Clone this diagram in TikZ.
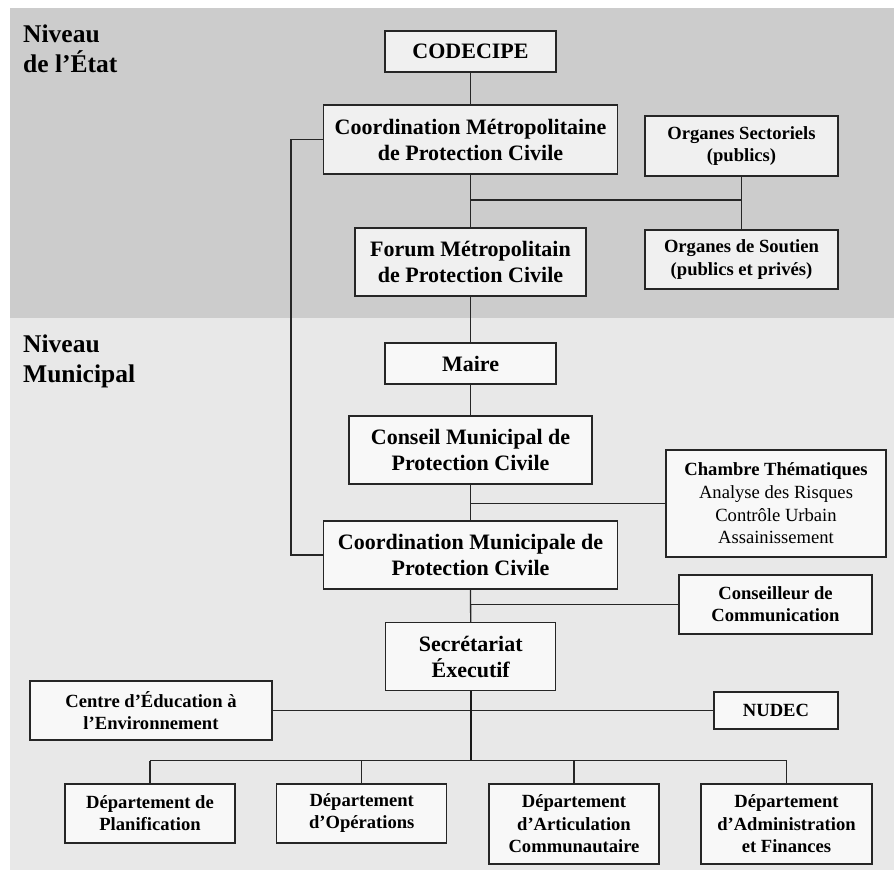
\documentclass[tikz,border=0pt]{standalone}
\usepackage{fontspec}
\setmainfont{Liberation Serif}
\definecolor{bgdark}{HTML}{CCCCCC}
\definecolor{bglight}{HTML}{E8E8E8}
\definecolor{boxtop}{HTML}{F0F0F0}
\definecolor{boxbot}{HTML}{F8F8F8}
\tikzset{
  bigbox/.style={draw=black!85, line width=1.5pt, inner sep=0pt, align=center,
    font=\bfseries\fontsize{22}{26}\selectfont},
  smallbox/.style={draw=black!85, line width=1.5pt, inner sep=0pt, align=center,
    font=\bfseries\fontsize{18.6}{22.3}\selectfont},
  link/.style={draw=black!85, line width=1.3pt},
  trunk/.style={draw=black!90, line width=2pt},
  level/.style={anchor=north west, inner sep=0pt, align=left,
    font=\bfseries\fontsize{25.5}{30}\selectfont}
}
\begin{document}
\begin{tikzpicture}[x=1pt, y=-1pt]
\useasboundingbox (0,0) rectangle (894,870);
\fill[bgdark] (10,8) rectangle (894,318);
\fill[bglight] (10,318) rectangle (894,870);

\node[level] (etat) at (23,24.5) {Niveau\\de l'État};
\node[level] (muni) at (23,335) {Niveau\\Municipal};

% State level
\node[bigbox, fill=boxtop, minimum width=171pt, minimum height=41pt] (codecipe) at (470.5,51.5) {CODECIPE};
\node[bigbox, fill=boxtop, minimum width=294pt, minimum height=69pt] (cmpc) at (470.5,139.5) {Coordination Métropolitaine\\de Protection Civile};
\node[smallbox, fill=boxtop, minimum width=193pt, minimum height=60pt] (os) at (741.5,146) {Organes Sectoriels\\(publics)};
\node[smallbox, fill=boxtop, minimum width=193pt, minimum height=59pt] (osout) at (741.5,259.5) {Organes de Soutien\\(publics et privés)};
\node[bigbox, fill=boxtop, minimum width=231pt, minimum height=68pt] (forum) at (470.5,262) {Forum Métropolitain\\de Protection Civile};

% Municipal level
\node[bigbox, fill=boxbot, minimum width=171pt, minimum height=41pt] (maire) at (470.5,363.5) {Maire};
\node[bigbox, fill=boxbot, minimum width=243pt, minimum height=68pt] (cmun) at (470.5,450) {Conseil Municipal de\\Protection Civile};
\node[draw=black!85, line width=1.5pt, inner sep=0pt, align=center, fill=boxbot,
  font=\fontsize{18.6}{22.7}\selectfont, minimum width=220pt, minimum height=107pt] (chambre) at (776,503.5)
  {\textbf{Chambre Thématiques}\\Analyse des Risques\\Contrôle Urbain\\Assainissement};
\node[bigbox, fill=boxbot, minimum width=294pt, minimum height=68pt] (coordmun) at (470.5,555) {Coordination Municipale de\\Protection Civile};
\node[smallbox, fill=boxbot, minimum width=193pt, minimum height=59pt] (conseiller) at (775.5,604.5) {Conseilleur de\\Communication};
\node[bigbox, fill=boxbot, minimum width=170pt, minimum height=68pt] (secr) at (470.7,656.7) {Secrétariat\\Éxecutif};
\node[smallbox, fill=boxbot, minimum width=242pt, minimum height=59pt] (centre) at (151,710.5) {Centre d'Éducation à\\l'Environnement};
\node[smallbox, fill=boxbot, minimum width=124pt, minimum height=37pt] (nudec) at (776,710.5) {NUDEC};

\node[smallbox, fill=boxbot, minimum width=170pt, minimum height=59pt, anchor=north] (d1) at (150,783) {Département de\\Planification};
\node[smallbox, fill=boxbot, minimum width=170pt, minimum height=59pt, anchor=north] (d2) at (361.7,783) {Département\\d'Opérations};
\node[smallbox, fill=boxbot, minimum width=170pt, minimum height=80pt, anchor=north] (d3) at (574,783) {Département\\d'Articulation\\Communautaire};
\node[smallbox, fill=boxbot, minimum width=171pt, minimum height=80pt, anchor=north] (d4) at (786.5,783) {Département\\d'Administration\\et Finances};

% junctions
\coordinate (j1) at (470.5,200);
\coordinate (j2) at (741.5,200);
\coordinate (lx) at (291,139.5);
\coordinate (bus) at (470.7,760.5);
\coordinate (b1) at (150,760.5);
\coordinate (b2) at (361.7,760.5);
\coordinate (b3) at (574,760.5);
\coordinate (b4) at (786.5,760.5);

% connectors
\draw[link] (codecipe.south) -- (cmpc.north);
\draw[link] (cmpc.south) -- (forum.north);
\draw[link] (os.south) -- (osout.north);
\draw[link] (j1) -- (j2);
\draw[link] (cmpc.west) -- (lx) |- (coordmun.west);
\draw[link] (forum.south) -- (maire.north);
\draw[link] (maire.south) -- (cmun.north);
\draw[link] (cmun.south) -- (coordmun.north);
\draw[link] (cmun.south |- chambre.west) -- (chambre.west);
\draw[link] (coordmun.south) -- (secr.north);
\draw[link] (coordmun.south |- conseiller.west) -- (conseiller.west);
\draw[link] (centre.east) -- (nudec.west);
\draw[trunk] (secr.south) -- (bus);
\draw[link] (b1) -- (b4);
\draw[link] (b1) -- (d1.north);
\draw[link] (b2) -- (d2.north);
\draw[link] (b3) -- (d3.north);
\draw[link] (b4) -- (d4.north);
\end{tikzpicture}
\end{document}
